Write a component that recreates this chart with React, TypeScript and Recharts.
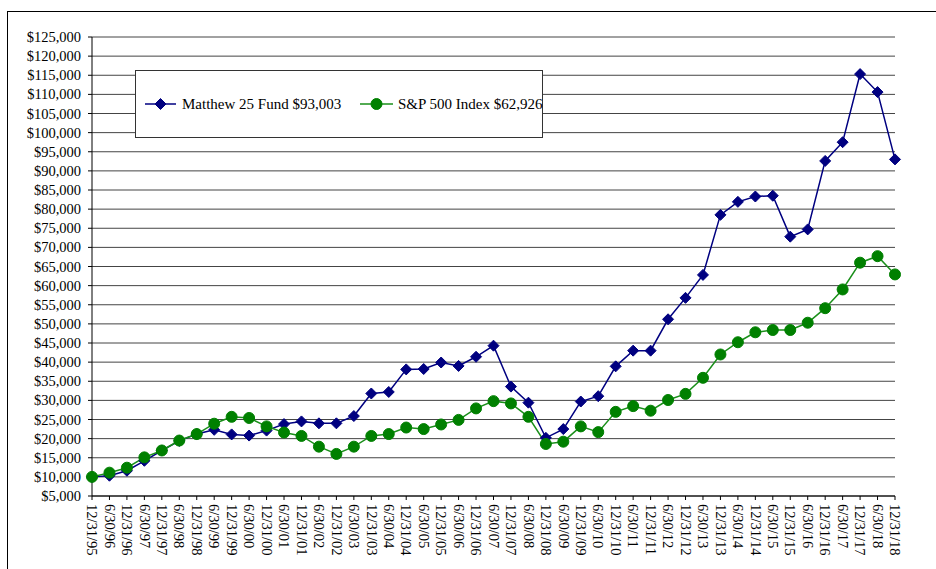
import * as React from 'react';
import { LineChart, Line, XAxis, YAxis, CartesianGrid } from 'recharts';

const dates = [
  '12/31/95', '6/30/96', '12/31/96', '6/30/97', '12/31/97', '6/30/98', '12/31/98', '6/30/99',
  '12/31/99', '6/30/00', '12/31/00', '6/30/01', '12/31/01', '6/30/02', '12/31/02', '6/30/03',
  '12/31/03', '6/30/04', '12/31/04', '6/30/05', '12/31/05', '6/30/06', '12/31/06', '6/30/07',
  '12/31/07', '6/30/08', '12/31/08', '6/30/09', '12/31/09', '6/30/10', '12/31/10', '6/30/11',
  '12/31/11', '6/30/12', '12/31/12', '6/30/13', '12/31/13', '6/30/14', '12/31/14', '6/30/15',
  '12/31/15', '6/30/16', '12/31/16', '6/30/17', '12/31/17', '6/30/18', '12/31/18',
];

const matthew25 = [
  10000, 10300, 11600, 14200, 16900, 19400, 21200, 22300,
  21100, 20800, 22100, 23800, 24500, 24000, 24000, 25900,
  31800, 32200, 38100, 38200, 39900, 39000, 41400, 44300,
  33600, 29400, 20200, 22500, 29700, 31100, 38900, 43000,
  43000, 51200, 56800, 62800, 78500, 81900, 83300, 83500,
  72800, 74700, 92600, 97500, 115300, 110600, 93003,
];

const sp500 = [
  10000, 11100, 12400, 15100, 16900, 19500, 21200, 23900,
  25700, 25400, 23200, 21600, 20700, 17900, 16000, 17900,
  20700, 21200, 22900, 22500, 23700, 24900, 27900, 29800,
  29200, 25700, 18600, 19200, 23200, 21700, 27000, 28500,
  27300, 30100, 31700, 35900, 42000, 45200, 47800, 48400,
  48400, 50300, 54100, 59000, 66000, 67700, 62926,
];

const yTicks = [
  5000, 10000, 15000, 20000, 25000, 30000, 35000, 40000, 45000, 50000, 55000, 60000, 65000,
  70000, 75000, 80000, 85000, 90000, 95000, 100000, 105000, 110000, 115000, 120000, 125000,
];

const seriesNames = ['Matthew 25 Fund $93,003', 'S&P 500 Index $62,926'];

const data = dates.map((d, i) => ({ d, mf: matthew25[i], sp: sp500[i] }));

const FONT = "'Liberation Serif', serif";
const BLUE = '#000080';
const GREEN = '#008000';
const GREEN_LINE = '#1a8f1a';

const fmt = (v: number) => '$' + v.toLocaleString('en-US');

function Diamond(props: any) {
  const { cx, cy } = props;
  if (cx == null || cy == null) return null;
  const s = 5.5;
  return <path d={`M${cx},${cy - s}L${cx + s},${cy}L${cx},${cy + s}L${cx - s},${cy}Z`} fill={BLUE} stroke={BLUE} />;
}

function Dot(props: any) {
  const { cx, cy } = props;
  if (cx == null || cy == null) return null;
  return <circle cx={cx} cy={cy} r={5.5} fill={GREEN} stroke={GREEN} />;
}

function XTick(props: any) {
  const { x, y, payload } = props;
  return (
    <text transform={`translate(${x},${y + 2}) rotate(90)`} dy="0.33em" textAnchor="start"
      style={{ fontFamily: FONT, fontSize: 14.5 }} fill="#000">
      {payload.value}
    </text>
  );
}

function YTick(props: any) {
  const { x, y, payload } = props;
  return (
    <text x={x} y={y} dy="0.35em" textAnchor="end" style={{ fontFamily: FONT, fontSize: 14.5 }} fill="#000">
      {fmt(payload.value)}
    </text>
  );
}

function LegendBox() {
  return (
    <svg width={408} height={68} style={{ position: 'absolute', left: 135, top: 70 }}>
      <rect x={0.5} y={0.5} width={407} height={67} fill="#fff" stroke="#333" />
      <line x1={10} x2={41} y1={34} y2={34} stroke={BLUE} strokeWidth={1.5} />
      <Diamond cx={25.5} cy={34} />
      <line x1={225} x2={258} y1={34} y2={34} stroke={GREEN_LINE} strokeWidth={1.5} />
      <Dot cx={241.5} cy={34} />
      <text x={47} y={34} dy="0.35em" style={{ fontFamily: FONT, fontSize: 15 }}>{seriesNames[0]}</text>
      <text x={263} y={34} dy="0.35em" style={{ fontFamily: FONT, fontSize: 15 }}>{seriesNames[1]}</text>
    </svg>
  );
}

export default function App() {
  return (
    <div style={{ position: 'fixed', left: 0, top: 0, width: 936, height: 569, overflow: 'hidden', background: '#fff' }}>
      <div style={{ position: 'absolute', left: 7, top: 11, width: 1000, height: 1000, borderLeft: '1.5px solid #000', borderTop: '1.5px solid #000' }} />
      <div style={{ position: 'absolute', left: 0, top: 0 }}>
        <LineChart width={936} height={569} data={data} margin={{ top: 37, right: 41, bottom: 0, left: 0 }}>
          <CartesianGrid horizontal vertical={false} stroke="#444" strokeWidth={1} />
          <XAxis dataKey="d" interval={0} height={73} tickSize={4} tickLine={{ stroke: '#000' }}
            axisLine={{ stroke: '#000' }} tick={<XTick />} padding={{ left: 0, right: 0 }} />
          <YAxis domain={[5000, 125000]} ticks={yTicks} interval={0} width={92} tickSize={4} tickMargin={7}
            axisLine={{ stroke: '#000' }} tickLine={{ stroke: '#000' }}
            tick={<YTick />} allowDataOverflow />
          <Line dataKey="mf" name={seriesNames[0]} stroke={BLUE} strokeWidth={1.5} dot={<Diamond />} activeDot={false} isAnimationActive={false} />
          <Line dataKey="sp" name={seriesNames[1]} stroke={GREEN_LINE} strokeWidth={1.5} dot={<Dot />} activeDot={false} isAnimationActive={false} />
        </LineChart>
      </div>
      <LegendBox />
    </div>
  );
}
